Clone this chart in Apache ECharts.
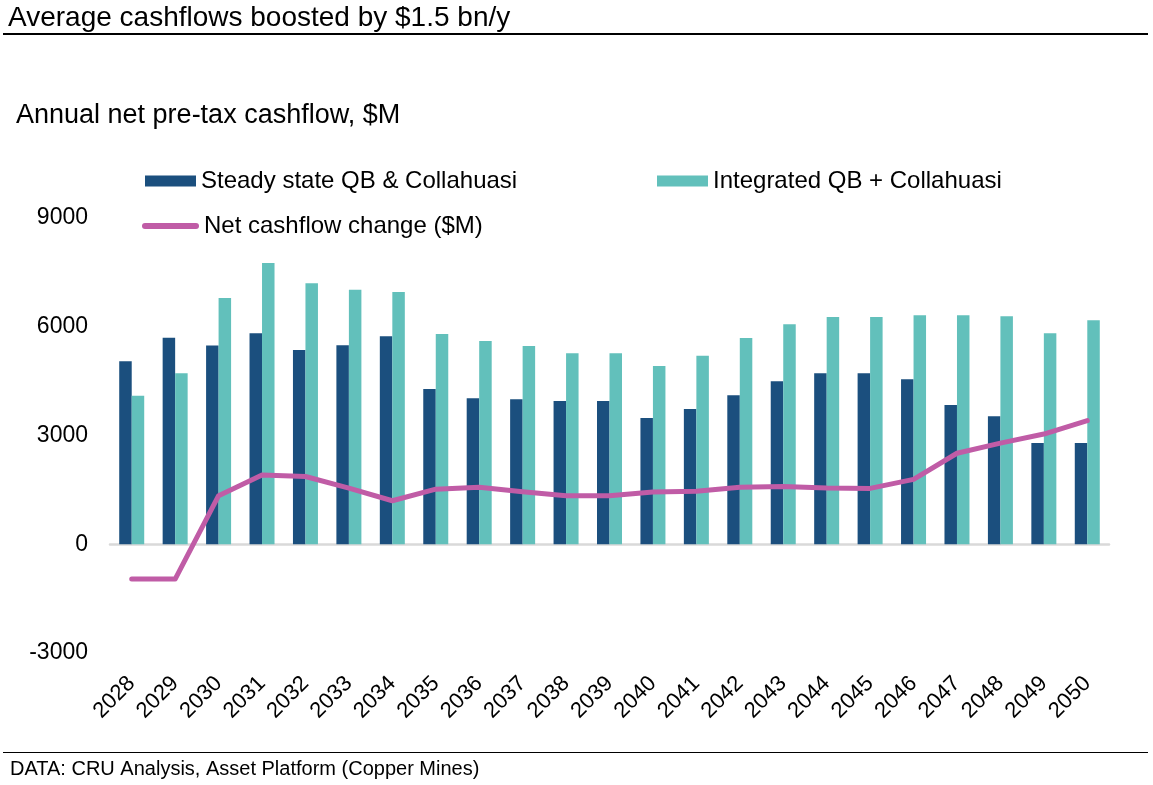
<!DOCTYPE html>
<html>
<head>
<meta charset="utf-8">
<script src="https://cdn.jsdelivr.net/npm/echarts@6/dist/echarts.min.js"></script>
<style>
  html, body { margin: 0; padding: 0; background: #fff; }
  #chart { width: 1153px; height: 785px; }
</style>
</head>
<body>
<div id="chart"></div>
<script>
const years = ["2028", "2029", "2030", "2031", "2032", "2033", "2034", "2035", "2036", "2037", "2038", "2039",
  "2040", "2041", "2042", "2043", "2044", "2045", "2046", "2047", "2048", "2049", "2050"];
const steadyState = [5050, 5700, 5480, 5820, 5360, 5490, 5740, 4280, 4030, 4000, 3950, 3950,
  3480, 3730, 4110, 4500, 4720, 4720, 4550, 3840, 3530, 2790, 2790];
const integrated = [4100, 4720, 6790, 7760, 7200, 7020, 6960, 5800, 5610, 5470, 5270, 5270,
  4920, 5200, 5690, 6070, 6270, 6270, 6320, 6320, 6290, 5820, 6180];
const netChange = [-960, -960, 1340, 1910, 1870, 1550, 1200, 1520, 1570, 1450, 1340, 1340,
  1440, 1460, 1570, 1590, 1550, 1540, 1790, 2510, 2790, 3040, 3410];
const yTicks = [-3000, 0, 3000, 6000, 9000];

const chart = echarts.init(document.getElementById("chart"));
const font = "'Liberation Sans', Arial, sans-serif";

// capsule shape for the line legend marker
const capsule = "path://M3,0 L54,0 A3,3 0 0 1 54,6 L3,6 A3,3 0 0 1 3,0 Z";

const legendText = { fontSize: 24, color: "#000", fontFamily: font };

const option = {
  animation: false,
  textStyle: { fontFamily: font },
  title: [
    {
      text: "Average cashflows boosted by $1.5 bn/y",
      left: 8, top: 4, padding: 0,
      textStyle: { fontSize: 28, fontWeight: "normal", color: "#000", fontFamily: font },
    },
    {
      text: "Annual net pre-tax cashflow, $M",
      left: 16, top: 102, padding: 0,
      textStyle: { fontSize: 27, fontWeight: "normal", color: "#000", fontFamily: font },
    },
    {
      text: "DATA: CRU Analysis, Asset Platform (Copper Mines)",
      left: 10, top: 759, padding: 0,
      textStyle: { fontSize: 20, fontWeight: "normal", color: "#000", fontFamily: font },
    },
  ],
  graphic: [
    { type: "rect", shape: { x: 3, y: 33, width: 1145, height: 2 }, style: { fill: "#000" } },
    { type: "rect", shape: { x: 3, y: 752, width: 1145, height: 1 }, style: { fill: "#000" } },
  ],
  legend: [
    {
      data: ["Steady state QB & Collahuasi"],
      left: 145, top: 169, padding: 0, icon: "rect",
      itemWidth: 51, itemHeight: 11,
      textStyle: legendText,
    },
    {
      data: ["Integrated QB + Collahuasi"],
      left: 657, top: 169, padding: 0, icon: "rect",
      itemWidth: 51, itemHeight: 11,
      textStyle: legendText,
    },
    {
      data: ["Net cashflow change ($M)"],
      left: 142, top: 214, padding: 0, icon: capsule,
      itemWidth: 57, itemHeight: 6,
      textStyle: legendText,
    },
  ],
  grid: { left: 110, right: 44, top: 218, bottom: 132 },
  xAxis: {
    type: "category",
    data: years,
    axisLine: { onZero: true, lineStyle: { color: "#d9d9d9", width: 2.5 } },
    axisTick: { show: false },
    axisLabel: {
      rotate: 45, fontSize: 22, color: "#000", margin: 27, interval: 0, fontFamily: font,
    },
  },
  yAxis: {
    type: "value",
    min: yTicks[0], max: yTicks[yTicks.length - 1], interval: 3000,
    axisLine: { show: false },
    axisTick: { show: false },
    splitLine: { show: false },
    axisLabel: {
      fontSize: 23, color: "#000", margin: 22, fontFamily: font,
      formatter: (v) => String(v),
    },
  },
  series: [
    {
      name: "Steady state QB & Collahuasi",
      type: "bar",
      data: steadyState,
      barWidth: 12.5,
      barGap: "0%",
      itemStyle: { color: "#1b4f7e" },
    },
    {
      name: "Integrated QB + Collahuasi",
      type: "bar",
      data: integrated,
      barWidth: 12.5,
      itemStyle: { color: "#62c0bb" },
    },
    {
      name: "Net cashflow change ($M)",
      type: "line",
      data: netChange,
      symbol: "none",
      z: 5,
      lineStyle: { color: "#c05ca6", width: 5, cap: "round", join: "round" },
      itemStyle: { color: "#c05ca6" },
    },
  ],
};

chart.setOption(option);
</script>
</body>
</html>
